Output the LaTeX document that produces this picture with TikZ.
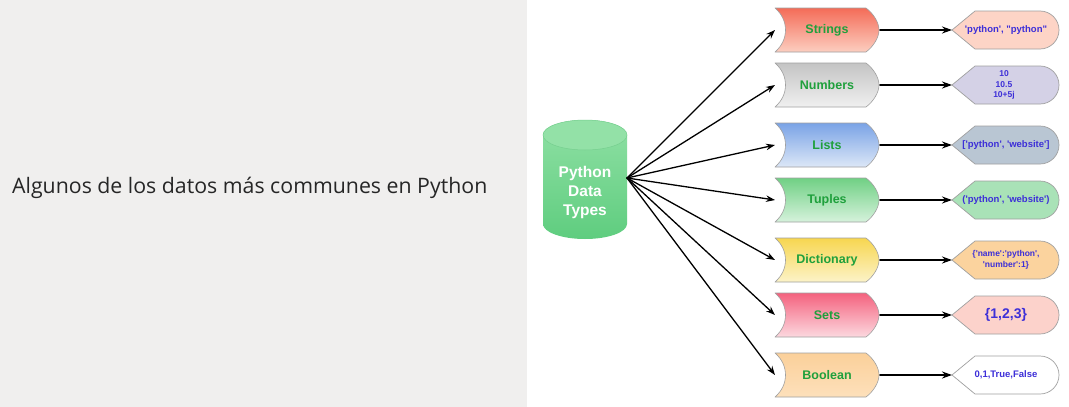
\documentclass[tikz,border=0pt]{standalone}
\usepackage{fontspec}
\setmainfont{Liberation Sans}
\newfontfamily\titlefont{Open Sans}
\usetikzlibrary{arrows.meta}

\definecolor{panel}{HTML}{F0EFEE}
\definecolor{lblgreen}{HTML}{1FA03C}
\definecolor{valblue}{HTML}{3D2FD8}
\definecolor{edge}{HTML}{A0A0A0}
\definecolor{dbtop}{HTML}{8FE0A4}
\definecolor{dbbottom}{HTML}{5FCD7F}
\definecolor{dbcap}{HTML}{93E1A7}
\definecolor{dbline}{HTML}{76CF8F}

\newcommand{\aps}{\textquotesingle}
\newcommand{\dqt}{\textquotedbl}

\begin{document}
\begin{tikzpicture}[
    x=1pt, y=-1pt,
    line cap=round,
    line join=round,
    cat/.style={insert path={(775,#1-22) -- (866,#1-22)
        .. controls (874,#1-16) and (879,#1-7) .. (879,#1)
        .. controls (879,#1+7) and (874,#1+16) .. (866,#1+22)
        -- (775,#1+22) .. controls (789,#1+10) and (789,#1-10) .. (775,#1-22) -- cycle}},
    val/.style={insert path={(952,#1) -- (975,#1-19) -- (1040,#1-19)
        arc[start angle=90, end angle=-90, radius=19pt] -- (975,#1+19) -- cycle}},
    catbox/.style={draw=edge, line width=0.6pt},
    valbox/.style={draw=edge, line width=0.7pt},
    catlabel/.style={font=\bfseries\fontsize{12.5}{14}\selectfont, text=lblgreen},
    vallabel/.style={font=\bfseries\fontsize{9.5}{11}\selectfont, text=valblue, align=center, inner sep=0pt},
    link/.style={-{Stealth[length=9pt,width=6.5pt]}, line width=1.3pt},
    flow/.style={-{Stealth[length=10pt,width=7pt]}, line width=1.9pt}
]

% -------------------------------------------------
% Фон: две панели
% -------------------------------------------------

\fill[panel] (0,0) rectangle (527,407);
\fill[white] (527,0) rectangle (1069,407);

\node[anchor=base west, inner sep=0pt, text=black!85,
      font=\titlefont\fontsize{21.3}{25}\selectfont] (title) at (12,193)
    {Algunos de los datos más communes en Python};

% -------------------------------------------------
% Цилиндр
% -------------------------------------------------

\shade[top color=dbtop, bottom color=dbbottom]
    (543,135) -- (543,224) arc[start angle=180, end angle=360, x radius=42pt, y radius=15pt]
    -- (627,135) arc[start angle=0, end angle=180, x radius=42pt, y radius=15pt] -- cycle;
\filldraw[fill=dbcap, draw=dbline, line width=0.5pt]
    (585,135) ellipse [x radius=42pt, y radius=15pt];

\node[font=\bfseries\fontsize{15.5}{19}\selectfont, text=white, align=center] (db) at (585,192)
    {Python\\Data\\Types};
\coordinate (hub) at (627,178);

% -------------------------------------------------
% Типы данных
% -------------------------------------------------

\shade[catbox, top color={rgb,255:red,244;green,108;blue,88}, bottom color={rgb,255:red,252;green,206;blue,192}, cat=30];
\shade[catbox, top color={rgb,255:red,196;green,196;blue,196}, bottom color={rgb,255:red,240;green,240;blue,240}, cat=85];
\shade[catbox, top color={rgb,255:red,122;green,163;blue,230}, bottom color={rgb,255:red,220;green,231;blue,247}, cat=145];
\shade[catbox, top color={rgb,255:red,112;green,208;blue,132}, bottom color={rgb,255:red,214;green,242;blue,220}, cat=200];
\shade[catbox, top color={rgb,255:red,247;green,214;blue,80}, bottom color={rgb,255:red,252;green,243;blue,200}, cat=260];
\shade[catbox, top color={rgb,255:red,244;green,98;blue,126}, bottom color={rgb,255:red,252;green,216;blue,223}, cat=315];
\shade[catbox, top color={rgb,255:red,251;green,208;blue,154}, bottom color={rgb,255:red,253;green,224;blue,187}, cat=375];

\node[catlabel] (str) at (827,30)  {Strings};
\node[catlabel] (num) at (827,85)  {Numbers};
\node[catlabel] (lst) at (827,145) {Lists};
\node[catlabel] (tup) at (827,200) {Tuples};
\node[catlabel] (dic) at (827,260) {Dictionary};
\node[catlabel] (set) at (827,315) {Sets};
\node[catlabel] (bol) at (827,375) {Boolean};

% -------------------------------------------------
% Значения
% -------------------------------------------------

\fill[valbox, fill={rgb,255:red,253;green,212;blue,198}, val=30];
\fill[valbox, fill={rgb,255:red,212;green,209;blue,230}, val=85];
\fill[valbox, fill={rgb,255:red,185;green,198;blue,211}, val=145];
\fill[valbox, fill={rgb,255:red,169;green,226;blue,183}, val=200];
\fill[valbox, fill={rgb,255:red,251;green,211;blue,158}, val=260];
\fill[valbox, fill={rgb,255:red,252;green,210;blue,203}, val=315];
\fill[valbox, fill=white, val=375];

\node[vallabel] (strV) at (1006,30)  {\aps python\aps, \dqt python\dqt};
\node[vallabel, font=\bfseries\fontsize{8.5}{10.5}\selectfont] (numV) at (1004,85) {10\\10.5\\10+5j};
\node[vallabel] (lstV) at (1006,145) {[\aps python\aps, \aps website\aps]};
\node[vallabel] (tupV) at (1006,200) {(\aps python\aps, \aps website\aps)};
\node[vallabel, font=\bfseries\fontsize{8.5}{11}\selectfont] (dicV) at (1006,260)
    {\{\aps name\aps:\aps python\aps,\\\aps number\aps:1\}};
\node[vallabel, font=\bfseries\fontsize{14}{16}\selectfont] (setV) at (1006,315) {\{1,2,3\}};
\node[vallabel] (bolV) at (1006,375) {0,1,True,False};

% -------------------------------------------------
% Точки входа и выхода стрелок
% -------------------------------------------------

\coordinate (strIn) at (775,30);  \coordinate (strOut) at (880,30);  \coordinate (strTo) at (952,30);
\coordinate (numIn) at (775,85);  \coordinate (numOut) at (880,85);  \coordinate (numTo) at (952,85);
\coordinate (lstIn) at (775,145); \coordinate (lstOut) at (880,145); \coordinate (lstTo) at (952,145);
\coordinate (tupIn) at (775,200); \coordinate (tupOut) at (880,200); \coordinate (tupTo) at (952,200);
\coordinate (dicIn) at (775,260); \coordinate (dicOut) at (880,260); \coordinate (dicTo) at (952,260);
\coordinate (setIn) at (775,315); \coordinate (setOut) at (880,315); \coordinate (setTo) at (952,315);
\coordinate (bolIn) at (775,375); \coordinate (bolOut) at (880,375); \coordinate (bolTo) at (952,375);

% -------------------------------------------------
% Стрелки
% -------------------------------------------------

\draw[link] (hub) -- (strIn);
\draw[link] (hub) -- (numIn);
\draw[link] (hub) -- (lstIn);
\draw[link] (hub) -- (tupIn);
\draw[link] (hub) -- (dicIn);
\draw[link] (hub) -- (setIn);
\draw[link] (hub) -- (bolIn);

\draw[flow] (strOut) -- (strTo);
\draw[flow] (numOut) -- (numTo);
\draw[flow] (lstOut) -- (lstTo);
\draw[flow] (tupOut) -- (tupTo);
\draw[flow] (dicOut) -- (dicTo);
\draw[flow] (setOut) -- (setTo);
\draw[flow] (bolOut) -- (bolTo);

\end{tikzpicture}
\end{document}
